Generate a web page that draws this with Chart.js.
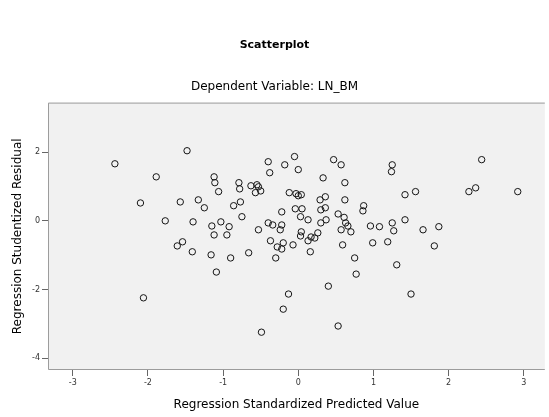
<!DOCTYPE html>
<html>
<head>
<meta charset="utf-8">
<title>Scatterplot</title>
<script src="https://cdn.jsdelivr.net/npm/chart.js@4.4.1/dist/chart.umd.min.js"></script>
<style>
  html, body { margin: 0; padding: 0; background: #fff; }
  #wrap { width: 549px; height: 417px; }
</style>
</head>
<body>
<div id="wrap"><canvas id="scatterChart" width="549" height="417"></canvas></div>
<script>
// Regression Standardized Predicted Value (x) per case
var predicted = [
  -2.44, -1.48, -1.89, -2.10, -1.57, -1.33, -1.25, -1.12, -1.11, -1.06,
  -1.77, -1.40, -1.15, -1.12, -1.03, -0.92, -0.95, -0.86, -0.77, -0.75,
  -0.79, -0.78, -0.63, -0.55, -0.57, -0.40, -0.38, -0.18, -0.05, 0.00,
  -0.53, -0.34, -0.24, -0.12, -0.03, 0.04, -0.22, -0.04, 0.05, -0.37,
  -0.28, -0.07, -1.54, -1.61, 0.47, 0.57, 0.33, 0.62, 0.62, 1.25,
  1.24, 1.42, 1.56, 2.27, 2.36, 2.44, 2.92, 0.87, 0.86, 0.29,
  0.36, 0.36, 0.13, 0.30, 0.53, 0.61, 0.63, 0.57, 0.70, 0.96,
  1.08, 1.25, 1.27, 1.42, 1.66, 1.87, 0.17, 0.26, 0.59, 0.99,
  1.19, 1.81, 0.16, 0.75, 0.77, 1.31, 0.40, 1.50, 0.53, -0.13,
  -1.41, -1.16, -0.90, -0.66, -0.30, -1.09, -2.06, -0.20, -0.49, 0.03,
  0.04, 0.03, 0.22, 0.13, -0.22, 0.37, 0.30, -0.50, -0.22, -0.40,
  -0.53, 0.66, -0.20, 0.00
];

// Regression Studentized Residual (y) per case
var residual = [
  1.66, 2.04, 1.28, 0.52, 0.55, 0.61, 0.38, 1.28, 1.11, 0.85,
  0.00, -0.03, -0.15, -0.41, -0.03, -0.17, -0.41, 0.44, 0.55, 0.12,
  1.11, 0.93, 1.02, 1.05, 0.82, 1.72, 1.40, 1.63, 1.87, 1.49,
  -0.26, -0.12, -0.26, 0.82, 0.79, 0.76, 0.26, 0.35, 0.35, -0.58,
  -0.76, -0.70, -0.61, -0.73, 1.78, 1.63, 1.25, 1.11, 0.61, 1.63,
  1.43, 0.76, 0.85, 0.85, 0.96, 1.78, 0.85, 0.44, 0.29, 0.61,
  0.70, 0.38, 0.03, -0.06, 0.20, 0.10, -0.06, -0.26, -0.32, -0.15,
  -0.17, -0.06, -0.29, 0.03, -0.26, -0.17, -0.47, -0.35, -0.70, -0.64,
  -0.61, -0.73, -0.90, -1.08, -1.55, -1.28, -1.90, -2.13, -3.06, -2.13,
  -0.90, -0.99, -1.08, -0.93, -1.08, -1.49, -2.24, -2.57, -3.24, 0.12,
  -0.32, -0.44, -0.50, -0.58, -0.82, 0.03, 0.32, 0.87, -0.12, -0.06,
  0.99, -0.15, -0.64, 0.73
];

// As-labels
var xTicks = [-3, -2, -1, 0, 1, 2, 3];
var yTicks = [2, 0, -2, -4];

var points = predicted.map(function (x, i) {
  return { x: x, y: residual[i] };
});

// Grijze achtergrond en rand van het plotvlak
var plotBackground = {
  id: 'plotBackground',
  beforeDraw: function (chart) {
    var ctx = chart.ctx;
    var a = chart.chartArea;
    ctx.save();
    ctx.fillStyle = '#f1f1f1';
    ctx.fillRect(a.left, a.top, a.right - a.left, a.bottom - a.top);
    ctx.strokeStyle = '#9c9c9c';
    ctx.lineWidth = 1;
    ctx.beginPath();
    ctx.moveTo(a.right, a.top + 0.5);
    ctx.lineTo(a.left + 0.5, a.top + 0.5);
    ctx.lineTo(a.left + 0.5, a.bottom - 0.5);
    ctx.lineTo(a.right, a.bottom - 0.5);
    ctx.stroke();
    ctx.restore();
  }
};

Chart.defaults.font.family = "'DejaVu Sans', 'Liberation Sans', sans-serif";
Chart.defaults.color = '#000';

var ctx = document.getElementById('scatterChart').getContext('2d');

new Chart(ctx, {
  type: 'scatter',
  data: {
    datasets: [{
      label: 'Cases',
      data: points,
      pointStyle: 'circle',
      pointRadius: 3.2,
      pointHoverRadius: 3.2,
      borderWidth: 1,
      borderColor: '#151515',
      backgroundColor: 'rgba(0,0,0,0)'
    }]
  },
  options: {
    responsive: false,
    animation: false,
    events: [],
    layout: { padding: { left: 0, right: 0, top: 0, bottom: 0 } },
    plugins: {
      legend: { display: false },
      tooltip: { enabled: false },
      title: {
        display: true,
        text: 'Scatterplot',
        font: { size: 11, weight: 'bold' },
        color: '#000',
        padding: { top: 39, bottom: 0 }
      },
      subtitle: {
        display: true,
        text: 'Dependent Variable: LN_BM',
        font: { size: 12 },
        color: '#000',
        padding: { top: 27, bottom: 9 }
      }
    },
    scales: {
      x: {
        type: 'linear',
        min: -3.33,
        max: 3.28,
        afterBuildTicks: function (scale) {
          scale.ticks = xTicks.map(function (v) { return { value: v }; });
        },
        afterFit: function (scale) { scale.height = 47; },
        grid: { drawOnChartArea: false, tickLength: 6, color: '#666' },
        border: { display: false },
        ticks: { font: { size: 8 }, color: '#333', padding: 2, maxRotation: 0 },
        title: {
          display: true,
          text: 'Regression Standardized Predicted Value',
          font: { size: 12 },
          color: '#000',
          padding: { top: 0, bottom: 5 }
        }
      },
      y: {
        type: 'linear',
        min: -4.34,
        max: 3.44,
        afterBuildTicks: function (scale) {
          scale.ticks = yTicks.map(function (v) { return { value: v }; });
        },
        afterFit: function (scale) { scale.width = 48; },
        grid: { drawOnChartArea: false, tickLength: 6, color: '#666' },
        border: { display: false },
        ticks: { font: { size: 8 }, color: '#333', padding: 2 },
        title: {
          display: true,
          text: 'Regression Studentized Residual',
          font: { size: 12 },
          color: '#000',
          padding: { top: 11, bottom: 0 }
        }
      }
    }
  },
  plugins: [plotBackground]
});
</script>
</body>
</html>
